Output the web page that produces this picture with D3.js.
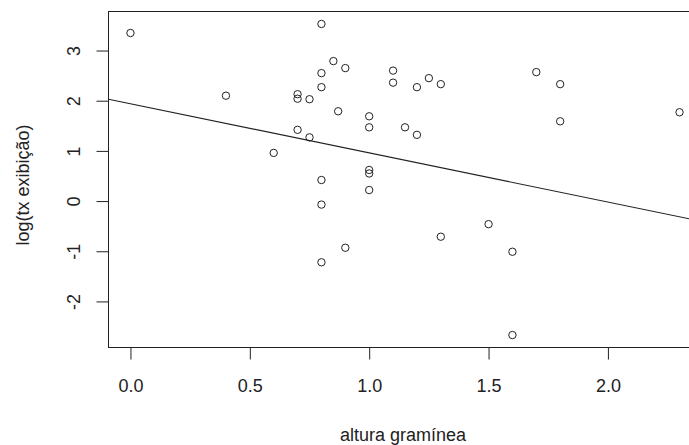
<!DOCTYPE html>
<html>
<head>
<meta charset="utf-8">
<script src="https://cdn.jsdelivr.net/npm/d3@7"></script>
<style>
    body { margin: 0; background: #fff; }
    text { font-family: "Liberation Sans", Arial, sans-serif; fill: #222; }
</style>
</head>
<body>
<svg id="plot" width="689" height="445"></svg>
<script>
// data
const alturaGraminea = [0, 0.4, 0.6, 0.7, 0.7, 0.7, 0.75, 0.75, 0.8, 0.8, 0.8, 0.8, 0.8, 0.8,
    0.85, 0.87, 0.9, 0.9, 1.0, 1.0, 1.0, 1.0, 1.0, 1.1, 1.1, 1.15, 1.2, 1.2, 1.25, 1.3, 1.3,
    1.5, 1.6, 1.6, 1.7, 1.8, 1.8, 2.3];
const logTxExibicao = [3.35, 2.10, 0.96, 2.13, 2.04, 1.42, 2.03, 1.27, 3.53, 2.55, 2.27, 0.42, -0.07, -1.22,
    2.79, 1.79, 2.65, -0.93, 1.69, 1.47, 0.62, 0.55, 0.22, 2.60, 2.36, 1.47, 2.27, 1.32, 2.45, 2.33, -0.71,
    -0.46, -1.01, -2.67, 2.57, 2.33, 1.59, 1.77];
// fitted line (intercept, slope)
const lineCoef = [1.94, -0.98];
const xTicks = [0, 0.5, 1.0, 1.5, 2.0];
const yTicks = [-2, -1, 0, 1, 2, 3];
const xLabel = "altura gramínea";
const yLabel = "log(tx exibição)";

const points = alturaGraminea.map((x, i) => ({ x: x, y: logTxExibicao[i] }));

const svg = d3.select("#plot");
const plot = { left: 108.5, right: 701.5, top: 11.5, bottom: 347.5 };

// R style 4% padding on the data range
function padRange(ext) {
    const pad = (ext[1] - ext[0]) * 0.04;
    return [ext[0] - pad, ext[1] + pad];
}

const x = d3.scaleLinear()
    .domain(padRange(d3.extent(alturaGraminea)))
    .range([plot.left, plot.right]);
const y = d3.scaleLinear()
    .domain(padRange(d3.extent(logTxExibicao)))
    .range([plot.bottom, plot.top]);

// box
svg.append("rect")
    .attr("x", plot.left)
    .attr("y", plot.top)
    .attr("width", plot.right - plot.left)
    .attr("height", plot.bottom - plot.top)
    .attr("fill", "none")
    .attr("stroke", "#222")
    .attr("stroke-width", 1);

// x axis
const xAxis = d3.axisBottom(x)
    .tickValues(xTicks)
    .tickFormat(d3.format(".1f"))
    .tickSize(12)
    .tickPadding(20);
const gx = svg.append("g")
    .attr("transform", `translate(0,${plot.bottom})`)
    .call(xAxis);
gx.select(".domain").remove();
gx.selectAll("line").attr("stroke", "#222");
gx.selectAll("text")
    .style("font-size", "18px")
    .attr("fill", "#222");

// y axis, labels rotated like R's default (plain hyphen minus)
const yAxis = d3.axisLeft(y)
    .tickValues(yTicks)
    .tickFormat(d => String(d))
    .tickSize(12);
const gy = svg.append("g")
    .attr("transform", `translate(${plot.left},0)`)
    .call(yAxis);
gy.select(".domain").remove();
gy.selectAll("line").attr("stroke", "#222");
gy.selectAll("text")
    .attr("x", 0)
    .attr("dy", 0)
    .attr("text-anchor", "middle")
    .attr("transform", "translate(-29,0) rotate(-90)")
    .style("font-size", "18px")
    .attr("fill", "#222");

// regression line
const xd = x.domain();
svg.append("line")
    .attr("x1", x(xd[0]))
    .attr("y1", y(lineCoef[0] + lineCoef[1] * xd[0]))
    .attr("x2", x(xd[1]))
    .attr("y2", y(lineCoef[0] + lineCoef[1] * xd[1]))
    .attr("stroke", "#222")
    .attr("stroke-width", 1.1);

// points
svg.append("g")
    .selectAll("circle")
    .data(points)
    .enter()
    .append("circle")
    .attr("cx", d => x(d.x))
    .attr("cy", d => y(d.y))
    .attr("r", 3.7)
    .attr("fill", "none")
    .attr("stroke", "#222")
    .attr("stroke-width", 1);

// axis titles
svg.append("text")
    .attr("x", 403)
    .attr("y", 441)
    .attr("text-anchor", "middle")
    .style("font-size", "18px")
    .text(xLabel);

svg.append("text")
    .attr("transform", "translate(29,185) rotate(-90)")
    .attr("text-anchor", "middle")
    .style("font-size", "18px")
    .text(yLabel);
</script>
</body>
</html>
